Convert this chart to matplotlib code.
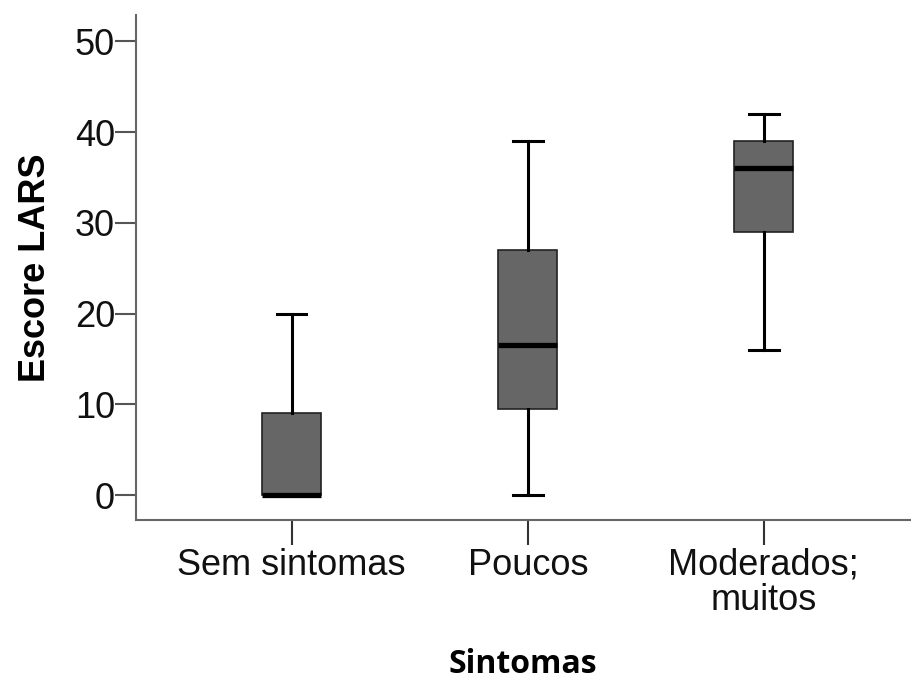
import matplotlib.pyplot as plt

categories = ["Sem sintomas", "Poucos", "Moderados;\nmuitos"]
whisker_low = [0, 0, 16]
q1 = [0, 9.5, 29]
median = [0, 16.5, 36]
q3 = [9, 27, 39]
whisker_high = [20, 39, 42]

plt.rcParams['font.family'] = ['Liberation Sans', 'DejaVu Sans']

fig = plt.figure(figsize=(9.12, 6.79), dpi=100)
ax = fig.add_axes([0.149, 0.234, 0.849, 0.744])

stats = []
for i in range(len(categories)):
    stats.append({'whislo': whisker_low[i], 'q1': q1[i], 'med': median[i],
                  'q3': q3[i], 'whishi': whisker_high[i], 'fliers': []})

ax.bxp(stats, positions=range(len(categories)), widths=0.25, patch_artist=True,
       showfliers=False,
       boxprops=dict(facecolor='#666666', edgecolor='#222222', linewidth=1.2),
       medianprops=dict(color='black', linewidth=3.8, solid_capstyle='butt'),
       whiskerprops=dict(color='black', linewidth=2.2),
       capprops=dict(color='black', linewidth=2.2),
       capwidths=0.125)

ax.set_xlim(-0.66, 2.62)
ax.set_ylim(-2.75, 52.9)
ax.set_yticks([0, 10, 20, 30, 40, 50])
ax.set_xticks(range(len(categories)))
ax.set_xticklabels(categories, fontsize=26, linespacing=1.0, color='#111111')
ax.tick_params(axis='y', labelsize=26, length=15, width=1.5, color='#555555',
               pad=0, labelcolor='#111111')
ax.tick_params(axis='x', length=18, width=1.5, color='#333333', pad=2)

for s in ['top', 'right']:
    ax.spines[s].set_visible(False)
for s in ['left', 'bottom']:
    ax.spines[s].set_color('#666666')
    ax.spines[s].set_linewidth(1.5)

ax.set_ylabel('Escore LARS', fontsize=26, fontweight='bold', labelpad=16)
fig.text(0.573, 0.022, 'Sintomas', fontsize=23, fontweight='bold',
         family=['Open Sans', 'DejaVu Sans'], ha='center', va='center')

fig.savefig('out.png', dpi=100, facecolor='white')
